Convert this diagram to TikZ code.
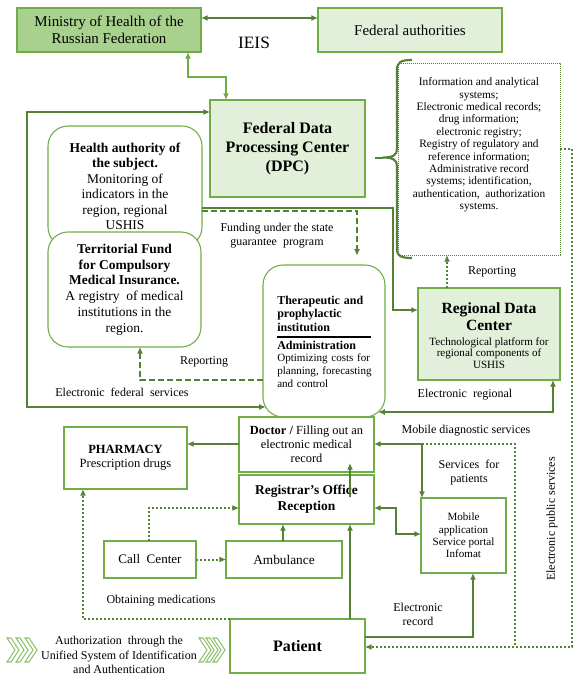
\documentclass[tikz,border=0pt]{standalone}
\usepackage{fontspec}
\setmainfont{Liberation Serif}
\usetikzlibrary{arrows.meta}
\definecolor{gline}{HTML}{548235}
\definecolor{gbox}{HTML}{70AD47}
\definecolor{gmid}{HTML}{A9D18E}
\definecolor{glight}{HTML}{E2F0D9}
\definecolor{gchev}{HTML}{8CC46C}
\newcommand\myfs[2]{\fontsize{#1}{#2}\selectfont}
\begin{document}
\begin{tikzpicture}[x=0.75pt,y=-0.75pt,
  >={Latex[length=5pt,width=4.5pt]},
  box/.style={draw=gbox,line width=0.8pt,inner sep=0pt,outer sep=0pt,align=center,fill=white},
  rbox/.style={box,rounded corners=15pt},
  conn/.style={gline,line width=1.5pt},
  thinconn/.style={gbox,line width=1pt},
  dashconn/.style={gline,line width=1.5pt,dash pattern=on 4.5pt off 2.25pt},
  dotconn/.style={gline,line width=1.5pt,dash pattern=on 1.5pt off 1.5pt},
  lbl/.style={inner sep=0pt,align=center,font=\myfs{9}{10.5}},
  chev/.style={draw=gchev,line width=0.8pt}]
\useasboundingbox (0,0) rectangle (584,676);
\fill[white] (0,0) rectangle (584,676);

% top row
\node[box,fill=gmid,minimum width=138pt,minimum height=33pt,font=\myfs{11.2}{12.8}] (min) at (109,30) {Ministry of Health of the\\Russian Federation};
\node[box,fill=glight,minimum width=138pt,minimum height=33pt,font=\myfs{11.2}{12.8}] (fed) at (410,30) {Federal authorities};
\node[lbl,font=\myfs{13}{15}] (ieis) at (254,43) {IEIS};

% DPC
\node[box,fill=glight,minimum width=116.25pt,minimum height=72.75pt,font=\myfs{12}{14.25}\bfseries] (dpc) at (287.5,148.5) {Federal Data\\Processing Center\\(DPC)};

% info box
\node[box,draw=gline,line width=0.6pt,dash pattern=on 0.6pt off 0.9pt,minimum width=121.5pt,minimum height=144pt] (info) at (479,159) {};
\node[lbl,font=\myfs{8.5}{9.3}] (infotext) at (479,145) {Information and analytical\\systems;\\Electronic medical records;\\drug information;\\electronic registry;\\Registry of regulatory and\\reference information;\\Administrative record\\systems; identification,\\authentication,~ authorization\\systems.};

% health / territorial
\node[rbox,minimum width=115.5pt,minimum height=90.75pt,font=\myfs{10.1}{11.6}] (health) at (125,186.5) {\textbf{Health authority of}\\\textbf{the subject.}\\Monitoring of\\indicators in the\\region, regional\\USHIS};
\node[rbox,minimum width=114.75pt,minimum height=86.25pt,font=\myfs{10.1}{11.8}] (terr) at (124.5,289.5) {\textbf{Territorial Fund}\\\textbf{for Compulsory}\\\textbf{Medical Insurance.}\\A registry~ of medical\\institutions in the\\region.};

% therapeutic
\node[rbox,minimum width=91.5pt,minimum height=114pt] (ther) at (324,341) {};
\node[inner sep=0pt,anchor=west,text width=70.5pt,align=left,font=\myfs{9}{10.1}\bfseries] (therA) at (277,313.5) {\makebox[70.5pt][s]{Therapeutic and}\\prophylactic\\institution};
\node[inner sep=0pt,anchor=west,text width=72pt,align=left,font=\myfs{8.3}{9.5}] (therB) at (277,364) {{\fontsize{9}{9}\selectfont\bfseries Administration}\\Optimizing costs for\\planning, forecasting\\and control};
\draw[black,line width=1.1pt] (277,337) -- (371,337);

% regional data center
\node[box,fill=glight,minimum width=106.5pt,minimum height=69pt] (rdc) at (489,334) {};
\node[lbl,font=\myfs{11.7}{12.75}\bfseries] (rdcA) at (489,317) {Regional Data\\Center};
\node[lbl,font=\myfs{8.3}{8.6}] (rdcB) at (489,353) {Technological platform for\\regional components of\\USHIS};

% lower boxes
\node[box,minimum width=101.25pt,minimum height=41.25pt,font=\myfs{9.3}{10.5}] (doc) at (306.5,444.5) {\textbf{Doctor /} Filling out an\\electronic medical\\record};
\node[box,minimum width=101.25pt,minimum height=36.75pt,font=\myfs{10.1}{12}\bfseries] (reg) at (306.5,499.5) {Registrar's Office\\Reception};
\node[box,minimum width=92.25pt,minimum height=46.5pt,font=\myfs{9.4}{10.5}] (pharm) at (125.5,458) {\textbf{PHARMACY}\\Prescription drugs};
\node[box,minimum width=69pt,minimum height=27.75pt,font=\myfs{9.8}{11}] (call) at (150,559.5) {Call~~Center};
\node[box,minimum width=87pt,minimum height=27.75pt,font=\myfs{10}{11}] (amb) at (284,559.5) {Ambulance};
\node[box,minimum width=63.75pt,minimum height=56.25pt,font=\myfs{8.3}{9.3}] (mob) at (463.5,535.5) {Mobile\\application\\Service portal\\Infomat};
\node[box,minimum width=101.25pt,minimum height=40.5pt,font=\myfs{12}{14}\bfseries] (pat) at (297.5,646) {Patient};

% labels
\node[lbl] (fund) at (277,236) {Funding under the state\\guarantee~ program};
\node[lbl] (rep1) at (492,272) {Reporting};
\node[lbl] (rep2) at (204,362) {Reporting};
\node[lbl] (efs) at (122,392) {Electronic~ federal~ services};
\node[lbl] (ereg) at (465,395) {Electronic~ regional};
\node[lbl] (mds) at (466,431) {Mobile diagnostic services};
\node[lbl] (sfp) at (469,473) {Services~ for\\patients};
\node[lbl] (obt) at (161,601) {Obtaining medications};
\node[lbl] (erec) at (418,614) {Electronic\\record};
\node[lbl,rotate=90] (eps) at (552,519) {Electronic public services};
\node[lbl,font=\myfs{9}{10.8}] (auth) at (119,655) {Authorization~ through the\\Unified System of Identification\\and Authentication};

% chevrons
\foreach \x in {7,16,25}
  \draw[chev] (\x,638) -- (\x+4,638) -- (\x+12,650) -- (\x+4,662) -- (\x,662) -- (\x+8,650) -- cycle;
\foreach \x in {199,206,213}
  \draw[chev] (\x,638) -- (\x+4,638) -- (\x+12,650) -- (\x+4,662) -- (\x,662) -- (\x+8,650) -- cycle;

% brace
\draw[conn,line width=1.6pt] (412,60) .. controls (401,60) and (397,62) .. (397,70) -- (397,149)
  .. controls (397,155) and (393,157.5) .. (383,157.5)
  .. controls (393,157.5) and (397,160) .. (397,166) -- (397,249)
  .. controls (397,256) and (401,258) .. (412,258);

% coordinates on rounded borders
\coordinate (tfed) at (265.7,407);
\coordinate (treg) at (378.2,412);
\coordinate (docin) at (350,463);
\coordinate (regin) at (350,497);
\coordinate (mdsturn) at (422,444);

% connectors
\draw[conn,<->] (min.east |- 0,18) -- (fed.west |- 0,18);
\draw[thinconn,<->] (min.south -| 188,0) -- (188,77) -| (dpc.north -| 226,0);
\draw[conn,<->] (tfed) -- (27,407) |- (dpc.west |- 0,112);
\draw[conn,shorten <=7.5pt] (dpc.east |- 0,157.5) -- (383,157.5);
\draw[conn,->] (health.east |- 0,208) -| (393,310) -- (rdc.west |- 0,310);
\draw[dashconn,->,shorten >=7pt] (health.east |- 0,211) -| (ther.north -| 357,0);
\draw[dotconn,->] (rdc.north -| 447,0) -- (info.south -| 447,0);
\draw[dashconn,->] (ther.west |- 0,380) -| (terr.south -| 140,0);
\draw[conn,<->] (treg) -| (rdc.south -| 553,0);
\draw[conn,->] (doc.west |- 0,444) -- (pharm.east |- 0,444);
\draw[conn,<->] (doc.east |- 0,444) -| (mob.north -| 422,0);
\draw[dotconn] (mdsturn) -| (515,647);
\draw[dotconn,->] (info.east |- 0,149) -| (572,647) -- (pat.east |- 0,647);
\draw[conn,<->] (reg.east |- 0,508) -| (396,534) -- (mob.west |- 0,534);
\draw[conn,->] (pat.north -| 350,0) -- (reg.south -| 350,0);
\draw[conn,->] (regin) -- (docin);
\draw[conn,->] (amb.north -| 283,0) -- (reg.south -| 283,0);
\draw[dotconn,->] (call.east) -- (amb.west);
\draw[dotconn,->] (call.north -| 149,0) |- (reg.west |- 0,508);
\draw[dotconn,->] (pat.north west) -| (pharm.south -| 83,0);
\draw[conn,->] (pat.east |- 0,637) -| (mob.south -| 473,0);
\end{tikzpicture}
\end{document}
